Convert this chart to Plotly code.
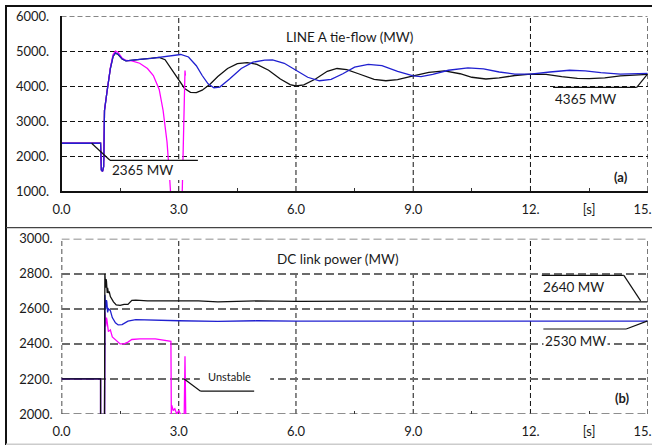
import plotly.graph_objects as go

# ---------------- data ----------------
# Panel (a): LINE A tie-flow (MW)
t_a_black = [0, 1.0, 1.02, 1.05, 1.08, 1.10, 1.16, 1.25, 1.32, 1.38, 1.45, 1.55, 1.65, 1.8, 2.0, 2.2, 2.5, 2.65, 2.8, 3.0,
             3.15, 3.3, 3.45, 3.6, 3.8, 4.0, 4.25, 4.5, 4.75, 5.0, 5.3, 5.6, 5.85, 6.0, 6.2, 6.5, 6.8, 7.05, 7.3, 7.6,
             8.0, 8.3, 8.6, 9.0, 9.4, 9.8, 10.2, 10.5, 10.86, 11.2, 11.6, 12.0, 12.4, 12.8, 13.2, 13.5, 13.9, 14.3, 14.7, 15.0]
v_a_black = [2365, 2365, 1600, 1560, 1700, 3300, 3800, 4500, 4850, 4940, 4900, 4770, 4720, 4740, 4770, 4800, 4820, 4750, 4500, 4150,
             3930, 3820, 3810, 3880, 4050, 4270, 4500, 4640, 4670, 4620, 4450, 4200, 4040, 4000, 4030, 4200, 4420, 4500, 4470, 4350,
             4190, 4150, 4180, 4290, 4390, 4430, 4350, 4250, 4200, 4230, 4300, 4340, 4330, 4270, 4220, 4210, 4230, 4290, 4320, 4330]

t_a_blue = [0, 1.0, 1.02, 1.05, 1.08, 1.10, 1.16, 1.25, 1.32, 1.38, 1.45, 1.55, 1.65, 1.8, 2.0, 2.3, 2.6, 2.9, 3.05, 3.25,
            3.45, 3.6, 3.75, 3.9, 4.05, 4.3, 4.6, 4.9, 5.2, 5.4, 5.7, 6.0, 6.3, 6.6, 6.9, 7.2, 7.5, 7.85, 8.2, 8.6,
            9.0, 9.2, 9.5, 9.9, 10.4, 10.8, 11.2, 11.6, 12.0, 12.5, 13.0, 13.4, 13.8, 14.3, 14.7, 15.0]
v_a_blue = [2365, 2365, 1600, 1560, 1700, 3300, 3800, 4500, 4850, 4950, 4910, 4780, 4720, 4730, 4760, 4790, 4830, 4890, 4900, 4830,
            4580, 4300, 4060, 3950, 3970, 4200, 4500, 4680, 4740, 4745, 4650, 4450, 4250, 4150, 4190, 4350, 4540, 4620, 4580, 4420,
            4290, 4270, 4330, 4450, 4520, 4490, 4400, 4340, 4340, 4400, 4450, 4430, 4380, 4340, 4340, 4360]

t_a_mag = [0, 1.0, 1.02, 1.05, 1.08, 1.10, 1.16, 1.25, 1.32, 1.38, 1.45, 1.55, 1.65, 1.8, 2.0, 2.2, 2.35, 2.5, 2.6, 2.7,
           2.76, 2.8, 3.08, 3.13, 3.16, 3.17]
v_a_mag = [2365, 2365, 1600, 1560, 1700, 3300, 3800, 4520, 4900, 5000, 4960, 4800, 4730, 4720, 4650, 4500, 4300, 3900, 3300, 2400,
           1500, 800, 500, 2500, 4440, 4300]

# Panel (b): DC link power (MW)
t_b_black = [0, 1.0, 1.0, 1.1, 1.11, 1.12, 1.13, 1.14, 1.15, 1.17, 1.18, 1.2, 1.22, 1.25, 1.27, 1.3, 1.33, 1.4, 1.5, 1.6,
             1.7, 1.8, 1.9, 2.2, 2.6, 3.0, 3.5, 4.0, 4.5, 5.0, 6.0, 7.0, 8.0, 10.0, 12.0, 14.0, 15.0]
v_b_black = [2200, 2200, 1900, 1900, 2800, 2740, 2720, 2770, 2760, 2690, 2720, 2690, 2700, 2670, 2660, 2650, 2640, 2622, 2620, 2625,
             2625, 2648, 2650, 2645, 2645, 2648, 2645, 2640, 2643, 2645, 2643, 2645, 2644, 2643, 2642, 2641, 2640]

t_b_blue = [0, 1.0, 1.0, 1.1, 1.11, 1.12, 1.13, 1.15, 1.16, 1.18, 1.2, 1.25, 1.3, 1.38, 1.45, 1.55, 1.7, 1.9, 2.3, 3.0,
            4.0, 5.0, 6.0, 9.0, 12.0, 15.0]
v_b_blue = [2200, 2200, 1900, 1900, 2680, 2620, 2600, 2650, 2640, 2580, 2600, 2590, 2550, 2520, 2508, 2510, 2530, 2538, 2535, 2532,
            2528, 2532, 2530, 2530, 2530, 2530]

t_b_mag = [0, 1.0, 1.0, 1.1, 1.11, 1.12, 1.13, 1.15, 1.16, 1.2, 1.25, 1.3, 1.4, 1.5, 1.6, 1.7, 1.8, 2.0, 2.4, 2.7,
           2.8, 2.81, 2.82, 2.86, 2.9, 2.95, 3.0, 3.04, 3.08, 3.14, 3.16, 3.18]
v_b_mag = [2200, 2200, 1900, 1900, 2580, 2520, 2500, 2550, 2540, 2470, 2480, 2440, 2420, 2400, 2400, 2410, 2425, 2428, 2428, 2420,
           2415, 2000, 2050, 2020, 2030, 2000, 2020, 2000, 1990, 1990, 2330, 1990]

# tick labels ("15." label nudged inward so it stays on the page)
x_tickvals = [0, 3, 6, 9, 12, 13.5, 14.87]
x_ticktext = ["0.0", "3.0", "6.0", "9.0", "12.", "[s]", "15."]
x_minor = [1.5, 4.5, 7.5, 10.5]
x_grid_full = [3, 12, 15]
x_grid_part = [6, 9]
ya_vals = [1000, 2000, 3000, 4000, 5000, 6000]
ya_text = ["1000.", "2000.", "3000.", "4000.", "5000.", "6000."]
yb_vals = [2000, 2200, 2400, 2600, 2800, 3000]
yb_text = ["2000.", "2200.", "2400.", "2600.", "2800.", "3000."]

# ---------------- figure ----------------
W, H = 652, 445
def px(x):
    return x / W
def py(y):
    return 1 - y / H

FONT = "Lato"
C_BLACK = "#111111"
C_BLUE = "#2020d0"
C_MAG = "#ff00ff"

fig = go.Figure()
for t, v, c, ax in [
    (t_a_black, v_a_black, C_BLACK, ("x", "y")),
    (t_a_mag, v_a_mag, C_MAG, ("x", "y")),
    (t_a_blue, v_a_blue, C_BLUE, ("x", "y")),
    (t_b_mag, v_b_mag, C_MAG, ("x2", "y2")),
    (t_b_blue, v_b_blue, C_BLUE, ("x2", "y2")),
    (t_b_black, v_b_black, C_BLACK, ("x2", "y2")),
]:
    fig.add_trace(go.Scatter(x=t, y=v, mode="lines", line=dict(color=c, width=1.3),
                             xaxis=ax[0], yaxis=ax[1], showlegend=False, hoverinfo="skip"))

xa_dom = [px(61.5), px(647.7)]
tickfont = dict(family=FONT, size=13, color="#1a1a1a")

def xaxis_cfg(anchor, standoff):
    return dict(domain=xa_dom, range=[0, 15], anchor=anchor, showgrid=False, zeroline=False,
                automargin=False, ticklabeloverflow="allow",
                tickmode="array", tickvals=x_tickvals, ticktext=x_ticktext,
                ticks="", tickfont=tickfont,
                ticklabelstandoff=standoff,
                minor=dict(tickmode="array", tickvals=x_minor + [13.5], ticks="inside", ticklen=3, tickcolor="#333"))

fig.update_layout(
    width=W, height=H, autosize=False,
    margin=dict(l=0, r=0, t=0, b=0, pad=0, autoexpand=False),
    paper_bgcolor="white", plot_bgcolor="white",
    font=dict(family=FONT, size=13, color="#1a1a1a"),
    xaxis=dict(**xaxis_cfg("y", 6), showline=True, linecolor="#111", linewidth=1.5),
    yaxis=dict(domain=[py(191), py(16)], range=[1000, 6000], anchor="x", zeroline=False, automargin=False,
               tickmode="array", tickvals=ya_vals, ticktext=ya_text, tickfont=tickfont,
               ticks="", ticklabelstandoff=8,
               showgrid=True, gridcolor="#111", gridwidth=1, griddash="5px,3px",
               showline=True, linecolor="#111", linewidth=1.5),
    xaxis2=dict(**xaxis_cfg("y2", 8), showline=False),
    yaxis2=dict(domain=[py(414), py(238.7)], range=[2000, 3000], anchor="x2", zeroline=False, automargin=False,
                tickmode="array", tickvals=yb_vals, ticktext=yb_text, tickfont=tickfont,
                ticks="", ticklabelstandoff=8,
                showgrid=True, gridcolor="#6a6a6a", gridwidth=1.6, griddash="8px,4px",
                showline=False),
)

shapes = []
# vertical dashed grid lines
for xr, yr, lo, hi, mid in [("x", "y", 1000, 6000, 5000), ("x2", "y2", 2000, 3000, 2800)]:
    for g in x_grid_full:
        shapes.append(dict(type="line", xref=xr, yref=yr, x0=g, x1=g, y0=lo, y1=hi,
                           line=dict(color="#111", width=1, dash="5px,3px"), layer="below"))
    for g in x_grid_part:
        shapes.append(dict(type="line", xref=xr, yref=yr, x0=g, x1=g, y0=lo, y1=mid,
                           line=dict(color="#111", width=1, dash="5px,3px"), layer="below"))
# top gridline at 6000 and bottom-panel edges
shapes.append(dict(type="line", xref="x", yref="y", x0=0, x1=15, y0=6000, y1=6000,
                   line=dict(color="#111", width=1, dash="5px,3px"), layer="below"))
for yv in [2000, 3000]:
    shapes.append(dict(type="line", xref="x2", yref="y2", x0=0, x1=15, y0=yv, y1=yv,
                       line=dict(color="#6a6a6a", width=1.6, dash="8px,4px"), layer="below"))
shapes.append(dict(type="line", xref="x2", yref="y2", x0=0, x1=0, y0=2000, y1=3000,
                   line=dict(color="#111", width=1.5, dash="5px,3px"), layer="below"))

# white boxes behind labels (cover traces / grid)
shapes.append(dict(type="rect", xref="x", yref="y", x0=1.11, x1=3.49, y0=1314, y1=1868,
                   fillcolor="white", line=dict(width=0), layer="above"))
shapes.append(dict(type="rect", xref="x2", yref="y2", x0=3.54, x1=5.34, y0=2143, y1=2257,
                   fillcolor="white", line=dict(width=0), layer="above"))

# leader lines
def leader(xr, yr, pts):
    for (x0, y0), (x1, y1) in zip(pts[:-1], pts[1:]):
        shapes.append(dict(type="line", xref=xr, yref=yr, x0=x0, y0=y0, x1=x1, y1=y1,
                           line=dict(color="#111", width=1.2), layer="above"))

leader("x", "y", [(0.77, 2363), (1.24, 1877), (3.49, 1877)])
leader("x", "y", [(15.0, 4343), (14.72, 3963), (12.58, 3963)])
leader("x2", "y2", [(3.14, 2200), (3.56, 2130), (4.93, 2130)])
leader("x2", "y2", [(14.82, 2645), (14.39, 2791), (12.29, 2791)])
leader("x2", "y2", [(15.0, 2531), (14.45, 2485), (12.33, 2485)])

# frame
shapes.append(dict(type="line", xref="paper", yref="paper", x0=px(6), x1=px(6), y0=py(5), y1=py(445),
                   line=dict(color="#111", width=2)))
shapes.append(dict(type="line", xref="paper", yref="paper", x0=px(5), x1=1, y0=py(6), y1=py(6),
                   line=dict(color="#111", width=2)))
shapes.append(dict(type="line", xref="paper", yref="paper", x0=px(6), x1=1, y0=py(227.7), y1=py(227.7),
                   line=dict(color="#444", width=1.2)))
shapes.append(dict(type="line", xref="paper", yref="paper", x0=px(6), x1=1, y0=py(444.2), y1=py(444.2),
                   line=dict(color="#cccccc", width=1.5)))
fig.update_layout(shapes=shapes)

ann = [
    dict(xref="x", yref="y", x=7.38, y=5400, text="LINE A tie-flow (MW)", font=dict(size=13.5)),
    dict(xref="x", yref="y", x=2.07, y=1586, text="2365 MW", font=dict(size=13.5)),
    dict(xref="x", yref="y", x=13.4, y=3629, text="4365 MW", font=dict(size=13.5)),
    dict(xref="x", yref="y", x=14.32, y=1409, text="<b>(a)</b>", font=dict(size=13)),
    dict(xref="x2", yref="y2", x=7.08, y=2883, text="DC link power (MW)", font=dict(size=13.5)),
    dict(xref="x2", yref="y2", x=4.29, y=2213, text="Unstable", font=dict(size=11)),
    dict(xref="x2", yref="y2", x=13.1, y=2726, text="2640 MW", font=dict(size=13.5)),
    dict(xref="x2", yref="y2", x=13.15, y=2417, text="2530 MW", font=dict(size=13.5), bgcolor="white"),
    dict(xref="x2", yref="y2", x=14.35, y=2090, text="<b>(b)</b>", font=dict(size=13)),
]
for a in ann:
    a.update(showarrow=False, xanchor="center", yanchor="middle")
    a["font"] = dict(family=FONT, color="#1a1a1a", **a["font"])
fig.update_layout(annotations=ann)

fig.write_html("out.html", config={"displayModeBar": False},
               post_script="document.body.style.margin='0';document.body.style.overflow='hidden';")
